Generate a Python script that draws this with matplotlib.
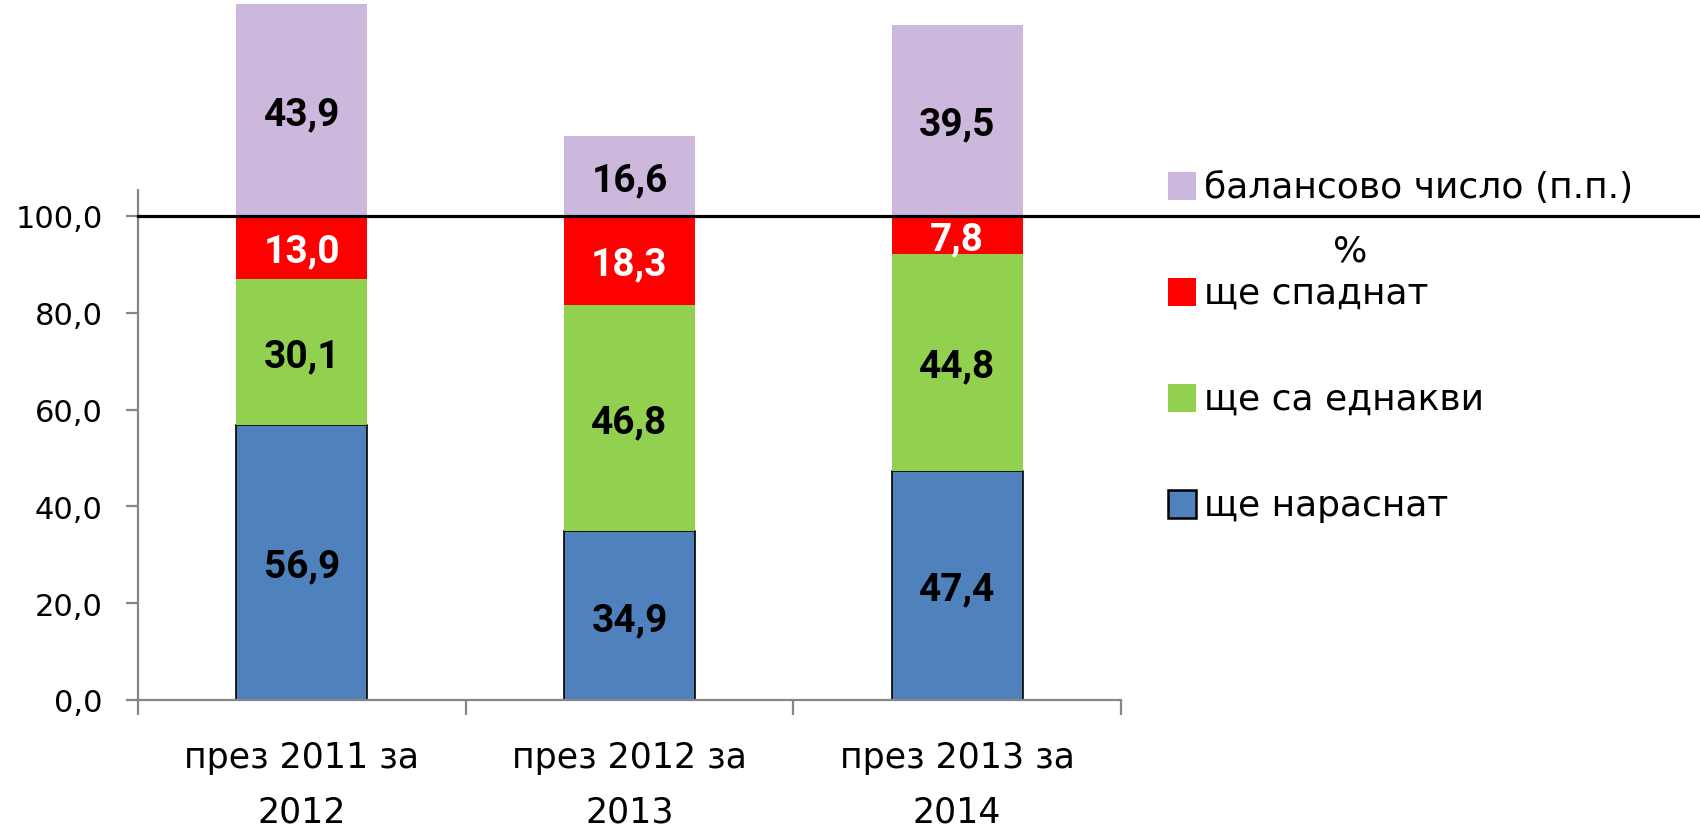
import matplotlib
matplotlib.use('Agg')
import matplotlib.pyplot as plt
from matplotlib.patches import Rectangle

# данни
categories = ['през 2011 за\n2012', 'през 2012 за\n2013', 'през 2013 за\n2014']
rise = [56.9, 34.9, 47.4]        # ще нараснат
same = [30.1, 46.8, 44.8]        # ще са еднакви
fall = [13.0, 18.3, 7.8]         # ще спаднат
balance = [43.9, 16.6, 39.5]     # балансово число (п.п.)

series_names = ['ще нараснат', 'ще са еднакви', 'ще спаднат', 'балансово число (п.п.)']
series_colors = ['#4F81BD', '#92D050', '#FF0000', '#CCB7DD']
label_colors = ['black', 'black', 'white', 'black']
yticks = [0, 20, 40, 60, 80, 100]
ytick_labels = ['0,0', '20,0', '40,0', '60,0', '80,0', '100,0']
unit_label = '%'

W, H = 1700, 829


def fx(x):
    return x / W


def fy(y):
    return 1 - y / H


fig = plt.figure(figsize=(17, 8.29), dpi=100)
ymax = 145
ax = fig.add_axes([fx(138), fy(701), 983 / W, ymax * 4.84 / H])

x = list(range(len(categories)))
series = [rise, same, fall, balance]
bottom = [0.0] * len(categories)
for vals, col, tcol, name in zip(series, series_colors, label_colors, series_names):
    edge = 'black' if name == 'ще нараснат' else 'none'
    ax.bar(x, vals, width=0.4, bottom=bottom, color=col, edgecolor=edge,
           linewidth=1.2, zorder=2)
    for xi, v, b in zip(x, vals, bottom):
        ax.text(xi, b + v / 2 - 0.8, f'{v:.1f}'.replace('.', ','), ha='center', va='center',
                fontsize=28, fontweight='bold', family=['Roboto', 'DejaVu Sans'],
                color=tcol, zorder=4)
    bottom = [b + v for b, v in zip(bottom, vals)]

ax.set_xlim(-0.5, len(categories) - 0.5)
ax.set_ylim(0, ymax)

# линия на 100
ax.axhline(100, xmin=0, xmax=(W - 138) / 983, color='black', linewidth=2.3,
           clip_on=False, zorder=3)

for s in ['top', 'right']:
    ax.spines[s].set_visible(False)
for s in ['left', 'bottom']:
    ax.spines[s].set_color('#868686')
    ax.spines[s].set_linewidth(1.6)
ax.spines['left'].set_bounds(0, 105.4)

ax.set_yticks(yticks)
ax.set_yticklabels(ytick_labels)
ax.tick_params(axis='y', length=8.5, width=1.6, color='#868686', pad=17, labelsize=22)

ax.set_xticks(x)
ax.set_xticklabels(categories, fontsize=25, linespacing=1.75)
ax.tick_params(axis='x', which='major', length=0, pad=29)
ax.set_xticks([i - 0.5 for i in range(len(categories) + 1)], minor=True)
ax.tick_params(axis='x', which='minor', length=11, width=1.6, color='#868686')

# легенда
legend_order = [3, 2, 1, 0]
for k, idx in enumerate(legend_order):
    top = 173 if k == 0 else 279 + (k - 1) * 106
    edge = 'black' if series_names[idx] == 'ще нараснат' else 'none'
    fig.add_artist(Rectangle((fx(1168), fy(top + 28)), 28 / W, 28 / H,
                             transform=fig.transFigure, facecolor=series_colors[idx],
                             edgecolor=edge, linewidth=1.8))
    fig.text(fx(1204), fy(top + 25), series_names[idx], fontsize=26,
             ha='left', va='baseline')

fig.text(fx(1350), fy(251), unit_label, fontsize=26, ha='center', va='center')

fig.savefig('out.png', dpi=100)
